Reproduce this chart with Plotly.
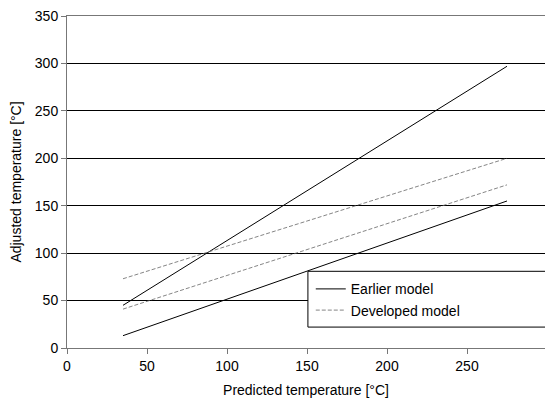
import plotly.graph_objects as go

x_pred = [35, 275]
earlier_upper = [45, 297]
earlier_lower = [13, 155]
developed_upper = [73, 200]
developed_lower = [41, 172]
x_ticks = [0, 50, 100, 150, 200, 250]
y_ticks = [0, 50, 100, 150, 200, 250, 300, 350]

FONT = "Liberation Sans, Arial, sans-serif"
DEV = dict(color="#666", width=0.8, dash="4px,2px")

fig = go.Figure()
fig.add_trace(go.Scatter(x=x_pred, y=earlier_upper, mode="lines", name="Earlier model",
                         legendgroup="e", line=dict(color="black", width=1)))
fig.add_trace(go.Scatter(x=x_pred, y=earlier_lower, mode="lines", name="Earlier model",
                         legendgroup="e", showlegend=False, line=dict(color="black", width=1)))
fig.add_trace(go.Scatter(x=x_pred, y=developed_upper, mode="lines", name="Developed model",
                         legendgroup="d", line=DEV))
fig.add_trace(go.Scatter(x=x_pred, y=developed_lower, mode="lines", name="Developed model",
                         legendgroup="d", showlegend=False, line=DEV))

xmax = 298.75
fig.add_shape(type="rect", xref="paper", yref="paper", x0=0.504, x1=1.02, y0=0.063, y1=0.231,
              line=dict(color="black", width=1), fillcolor="white", layer="above")

fig.update_layout(
    width=545, height=403,
    margin=dict(l=67, r=0, t=16, b=55),
    paper_bgcolor="white", plot_bgcolor="white",
    font=dict(family=FONT, size=14, color="black"),
    showlegend=True,
    legend=dict(x=0.51, y=0.225, xanchor="left", yanchor="top", bgcolor="rgba(0,0,0,0)",
                borderwidth=0, font=dict(family=FONT, size=14), tracegroupgap=0,
                itemwidth=30),
    xaxis=dict(range=[0, xmax], tickvals=x_ticks, showgrid=False, zeroline=False,
               automargin=False, mirror=True,
               showline=True, linecolor="#777", linewidth=1, ticks="outside", ticklen=5,
               tickcolor="#777", tickfont=dict(size=14),
               title=dict(text="Predicted temperature [°C]", font=dict(size=14), standoff=12)),
    yaxis=dict(range=[0, 350], tickvals=y_ticks, showgrid=True, gridcolor="black", gridwidth=1,
               zeroline=False, showline=True, linecolor="#777", linewidth=1, ticks="outside",
               automargin=False,
               ticklen=5, tickcolor="#777", tickfont=dict(size=14),
               title=dict(text="Adjusted temperature [°C]", font=dict(size=14), standoff=9)),
)

fig.write_html("out.html", config={"displayModeBar": False},
               post_script="document.body.style.margin='0';document.body.style.overflow='hidden';")
